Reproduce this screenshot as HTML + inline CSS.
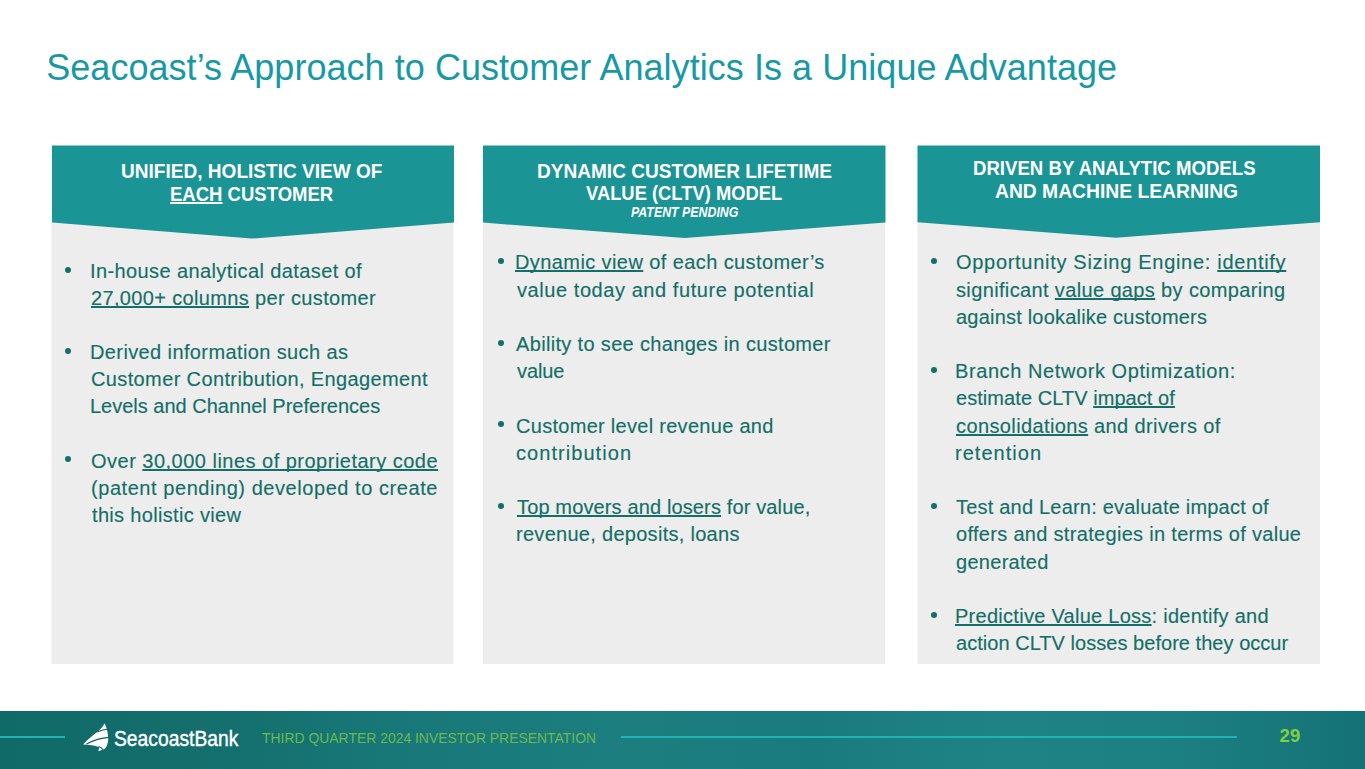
<!DOCTYPE html>
<html><head><meta charset="utf-8">
<style>
html,body{margin:0;padding:0;background:#fff;}
body{width:1365px;height:769px;position:relative;overflow:hidden;font-family:"Liberation Sans",sans-serif;}
.title{position:absolute;color:#1799a5;white-space:nowrap;}
svg.bg{position:absolute;left:0;top:0;}
.t{position:absolute;font-size:20px;line-height:20px;color:#146f68;white-space:nowrap;-webkit-text-stroke:0.15px #146f68;}
.t u{text-decoration:underline;text-decoration-thickness:2px;text-underline-offset:1.2px;text-decoration-skip-ink:none;}
.bl{position:absolute;width:6px;height:6px;border-radius:50%;background:#146f68;}
.h{position:absolute;font-weight:bold;color:#fff;white-space:nowrap;line-height:1;}
.h u{text-decoration:underline;text-decoration-thickness:1.7px;text-underline-offset:0.6px;text-decoration-skip-ink:none;}
.foot{position:absolute;left:0;top:711px;width:1365px;height:58px;overflow:hidden;
 background:linear-gradient(90deg,#106a67 0%,#136e6c 14%,#19797a 32%,#1c7e7f 45%,#1a7b7e 60%,#1f8385 74%,#1c7f82 86%,#147276 100%);}
.fline{position:absolute;height:2px;background:#1eb3b5;top:25px;}
.ftext{position:absolute;font-size:15px;line-height:15px;color:#6aba50;white-space:nowrap;}
.pn{position:absolute;font-size:18px;line-height:18px;font-weight:bold;color:#7fd03c;}
.logo{position:absolute;font-size:22px;line-height:22px;color:#fff;white-space:nowrap;-webkit-text-stroke:0.4px #fff;}
</style></head><body>
<svg class="bg" width="1365" height="769" viewBox="0 0 1365 769">
 <rect x="51.5" y="146" width="402" height="518" fill="#ededed"/>
 <rect x="483" y="146" width="402" height="518" fill="#ededed"/>
 <rect x="917.5" y="146" width="402.5" height="518" fill="#ededed"/>
 <polygon points="52,145.5 454,145.5 454,222.6 251.5,238.6 52,222.6" fill="#1a9494"/>
 <polygon points="483,145.5 885.5,145.5 885.5,222.6 684.5,238 483,222.6" fill="#1a9494"/>
 <polygon points="917.5,145.5 1320,145.5 1320,222.2 1116,237.7 917.5,222.2" fill="#1a9494"/>
</svg>
<div class="bl" style="left:65.0px;top:266.5px"></div>
<div class="bl" style="left:65.0px;top:347.8px"></div>
<div class="bl" style="left:65.0px;top:456.2px"></div>
<div class="bl" style="left:497.5px;top:258.0px"></div>
<div class="bl" style="left:497.5px;top:339.6px"></div>
<div class="bl" style="left:497.5px;top:421.2px"></div>
<div class="bl" style="left:497.5px;top:502.8px"></div>
<div class="bl" style="left:930.5px;top:258.0px"></div>
<div class="bl" style="left:930.5px;top:366.8px"></div>
<div class="bl" style="left:930.5px;top:502.8px"></div>
<div class="bl" style="left:930.5px;top:611.6px"></div>
<div class="foot">
 <div class="fline" style="left:0;width:65px"></div>
 <div class="fline" style="left:621px;width:616px"></div>
 <svg style="position:absolute;left:80px;top:9px" width="32" height="34" viewBox="0 0 32 34">
  <path d="M24.6,3.3 C26.5,7 28.2,13 28.2,18.6 C28.2,23 27,27 24.5,29 L18.4,31.2 L19.2,27.2 C15,25.3 9,24.8 3.1,24.6 C8,19 14,14.5 18.5,11 C21,9 23,6.5 24.6,3.3 Z" fill="#fff"/>
  <path d="M17.2,12 C21,10.3 24.5,9.4 29,9.0" stroke="#0e5c5a" stroke-width="1.1" fill="none"/>
  <path d="M6.5,23.9 C13,20.5 20,18 29,17.4" stroke="#0e5c5a" stroke-width="1.1" fill="none"/>
  <path d="M18.6,26.6 C20.5,27.2 21.8,28.1 23,29.6" stroke="#0e5c5a" stroke-width="1.1" fill="none"/>
 </svg>
</div>
<div class="t" style="left:90.00px;top:260.87px;font-size:20px;line-height:20px;letter-spacing:0.397px;">In-house analytical dataset of</div>
<div class="t" style="left:91.00px;top:287.97px;font-size:20px;line-height:20px;letter-spacing:0.352px;"><u>27,000+ columns</u> per customer</div>
<div class="t" style="left:90.00px;top:342.17px;font-size:20px;line-height:20px;letter-spacing:0.385px;">Derived information such as</div>
<div class="t" style="left:91.00px;top:369.27px;font-size:20px;line-height:20px;letter-spacing:0.375px;">Customer Contribution, Engagement</div>
<div class="t" style="left:90.00px;top:396.37px;font-size:20px;line-height:20px;letter-spacing:-0.000px;">Levels and Channel Preferences</div>
<div class="t" style="left:91.00px;top:450.57px;font-size:20px;line-height:20px;letter-spacing:0.486px;">Over <u>30,000 lines of proprietary code</u></div>
<div class="t" style="left:91.00px;top:477.67px;font-size:20px;line-height:20px;letter-spacing:0.557px;">(patent pending) developed to create</div>
<div class="t" style="left:92.00px;top:504.77px;font-size:20px;line-height:20px;letter-spacing:0.324px;">this holistic view</div>
<div class="t" style="left:515.00px;top:252.37px;font-size:20px;line-height:20px;letter-spacing:0.407px;"><u>Dynamic view</u> of each customer’s</div>
<div class="t" style="left:517.00px;top:279.57px;font-size:20px;line-height:20px;letter-spacing:0.568px;">value today and future potential</div>
<div class="t" style="left:516.00px;top:333.97px;font-size:20px;line-height:20px;letter-spacing:0.333px;">Ability to see changes in customer</div>
<div class="t" style="left:517.00px;top:361.17px;font-size:20px;line-height:20px;letter-spacing:-0.100px;">value</div>
<div class="t" style="left:516.00px;top:415.57px;font-size:20px;line-height:20px;letter-spacing:0.288px;">Customer level revenue and</div>
<div class="t" style="left:516.00px;top:442.77px;font-size:20px;line-height:20px;letter-spacing:1.055px;">contribution</div>
<div class="t" style="left:517.00px;top:497.17px;font-size:20px;line-height:20px;letter-spacing:0.135px;"><u>Top movers and losers</u> for value,</div>
<div class="t" style="left:516.00px;top:524.37px;font-size:20px;line-height:20px;letter-spacing:0.287px;">revenue, deposits, loans</div>
<div class="t" style="left:956.00px;top:252.37px;font-size:20px;line-height:20px;letter-spacing:0.700px;">Opportunity Sizing Engine: <u>identify</u></div>
<div class="t" style="left:956.00px;top:279.57px;font-size:20px;line-height:20px;letter-spacing:0.362px;">significant <u>value gaps</u> by comparing</div>
<div class="t" style="left:956.00px;top:306.77px;font-size:20px;line-height:20px;letter-spacing:0.204px;">against lookalike customers</div>
<div class="t" style="left:955.00px;top:361.17px;font-size:20px;line-height:20px;letter-spacing:0.585px;">Branch Network Optimization:</div>
<div class="t" style="left:956.00px;top:388.37px;font-size:20px;line-height:20px;letter-spacing:0.059px;">estimate CLTV <u>impact of</u></div>
<div class="t" style="left:956.00px;top:415.57px;font-size:20px;line-height:20px;letter-spacing:0.386px;"><u>consolidations</u> and drivers of</div>
<div class="t" style="left:955.00px;top:442.77px;font-size:20px;line-height:20px;letter-spacing:1.038px;">retention</div>
<div class="t" style="left:956.00px;top:497.17px;font-size:20px;line-height:20px;letter-spacing:0.206px;">Test and Learn: evaluate impact of</div>
<div class="t" style="left:956.00px;top:524.37px;font-size:20px;line-height:20px;letter-spacing:0.311px;">offers and strategies in terms of value</div>
<div class="t" style="left:956.00px;top:551.57px;font-size:20px;line-height:20px;letter-spacing:0.288px;">generated</div>
<div class="t" style="left:955.00px;top:605.97px;font-size:20px;line-height:20px;letter-spacing:0.274px;"><u>Predictive Value Loss</u>: identify and</div>
<div class="t" style="left:956.00px;top:633.17px;font-size:20px;line-height:20px;letter-spacing:0.037px;">action CLTV losses before they occur</div>
<div class="h" style="left:121.10px;top:160.64px;font-size:20.5px;line-height:20.5px;letter-spacing:0.000px;transform:scaleX(0.9295);transform-origin:0 0;">UNIFIED, HOLISTIC VIEW OF</div>
<div class="h" style="left:169.50px;top:183.64px;font-size:20.5px;line-height:20.5px;letter-spacing:0.000px;transform:scaleX(0.9031);transform-origin:0 0;"><u>EACH</u> CUSTOMER</div>
<div class="h" style="left:537.00px;top:160.64px;font-size:20.5px;line-height:20.5px;letter-spacing:0.000px;transform:scaleX(0.9296);transform-origin:0 0;">DYNAMIC CUSTOMER LIFETIME</div>
<div class="h" style="left:586.40px;top:183.24px;font-size:20.5px;line-height:20.5px;letter-spacing:0.000px;transform:scaleX(0.8959);transform-origin:0 0;">VALUE (CLTV) MODEL</div>
<div class="h" style="left:631.00px;top:205.35px;font-size:14px;line-height:14px;letter-spacing:0.000px;transform:scaleX(0.8830);transform-origin:0 0;font-style:italic;">PATENT PENDING</div>
<div class="h" style="left:973.40px;top:157.64px;font-size:20.5px;line-height:20.5px;letter-spacing:0.000px;transform:scaleX(0.9075);transform-origin:0 0;">DRIVEN BY ANALYTIC MODELS</div>
<div class="h" style="left:994.90px;top:180.84px;font-size:20.5px;line-height:20.5px;letter-spacing:0.000px;transform:scaleX(0.9403);transform-origin:0 0;">AND MACHINE LEARNING</div>
<div class="title" style="left:46.20px;top:50.32px;font-size:36px;line-height:36px;letter-spacing:0.048px;">Seacoast’s Approach to Customer Analytics Is a Unique Advantage</div>
<div class="ftext" style="left:262.00px;top:730.10px;font-size:15px;line-height:15px;letter-spacing:0.000px;transform:scaleX(0.9286);transform-origin:0 0;">THIRD QUARTER 2024 INVESTOR PRESENTATION</div>
<div class="logo" style="left:114.00px;top:728.37px;font-size:22px;line-height:22px;letter-spacing:0.000px;transform:scaleX(0.8764);transform-origin:0 0;">SeacoastBank</div>
<div class="pn" style="left:1279.40px;top:726.64px;font-size:18.5px;line-height:18.5px;letter-spacing:0.400px;">29</div>
</body></html>
